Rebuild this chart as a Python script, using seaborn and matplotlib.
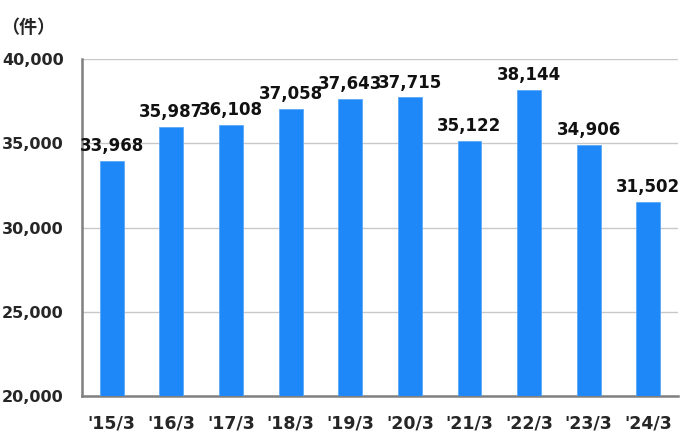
import seaborn as sns
import pandas as pd
import matplotlib.pyplot as plt
from matplotlib.ticker import FixedLocator, FuncFormatter

# data
periods = ["'15/3", "'16/3", "'17/3", "'18/3", "'19/3", "'20/3", "'21/3", "'22/3", "'23/3", "'24/3"]
counts = [33968, 35987, 36108, 37058, 37643, 37715, 35122, 38144, 34906, 31502]
y_ticks = [20000, 25000, 30000, 35000, 40000]

df = pd.DataFrame({"period": periods, "count": counts})

sns.set_style("white")
plt.rcParams["font.family"] = ["DejaVu Sans", "Noto Sans CJK JP"]

fig = plt.figure(figsize=(6.8, 4.37), dpi=100)
ax = fig.add_axes([0.1206, 0.0938, 0.8765, 0.7712])

sns.barplot(data=df, x="period", y="count", color="#1e88f8", width=0.4,
            saturation=1, edgecolor="#5aa8f8", linewidth=0.6, ax=ax, zorder=3)

ax.set_ylim(20000, 40000)
ax.set_xlim(-0.5, len(periods) - 0.5)
ax.set_yticks(y_ticks)
ax.yaxis.set_major_formatter(FuncFormatter(lambda v, p: f"{int(v):,}"))
ax.grid(axis="y", color="#c8c8c8", linewidth=1, zorder=0)
ax.set_axisbelow(True)

# value labels
for i, v in enumerate(counts):
    ax.text(i, v + 350, f"{v:,}", ha="center", va="bottom",
            fontsize=12, fontweight="bold", color="#111111")

# axes styling
for side in ["top", "right"]:
    ax.spines[side].set_visible(False)
for side in ["left", "bottom"]:
    ax.spines[side].set_color("#808080")
    ax.spines[side].set_linewidth(1.8)

ax.tick_params(axis="y", length=0, pad=13, labelsize=11.5)
ax.tick_params(axis="x", which="major", length=0, pad=13, labelsize=12.5)
ax.xaxis.set_minor_locator(FixedLocator([i + 0.5 for i in range(len(periods) - 1)]))
ax.tick_params(axis="x", which="minor", direction="in", length=4, width=1.2, color="#808080")
for lbl in ax.get_xticklabels() + ax.get_yticklabels():
    lbl.set_fontweight("bold")
ax.set_xlabel("")
ax.set_ylabel("")

fig.text(0.041, 0.938, "（件）", ha="center", va="center", fontsize=13,
         fontweight="bold", family=["Noto Sans CJK JP", "DejaVu Sans"])

fig.savefig("out.png", dpi=100)
